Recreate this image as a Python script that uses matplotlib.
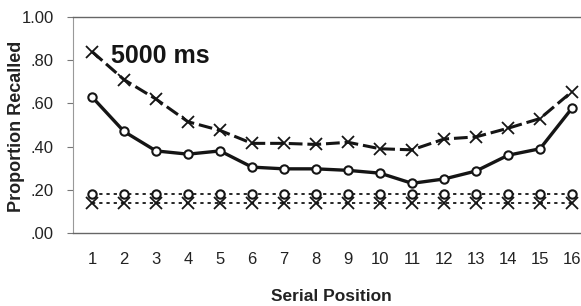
import matplotlib
matplotlib.use("Agg")
import matplotlib.pyplot as plt

positions = list(range(1, 17))
x_dashed = [0.84, 0.71, 0.62, 0.515, 0.475, 0.415, 0.415, 0.41, 0.42, 0.39, 0.385, 0.435, 0.445, 0.485, 0.53, 0.655]
o_solid = [0.63, 0.47, 0.38, 0.365, 0.38, 0.305, 0.297, 0.297, 0.29, 0.277, 0.23, 0.25, 0.287, 0.36, 0.39, 0.578]
o_dotted = [0.18] * 16
x_dotted = [0.14] * 16
yticks = [0.0, 0.2, 0.4, 0.6, 0.8, 1.0]
ytick_labels = [".00", ".20", ".40", ".60", ".80", "1.00"]

plt.rcParams['font.family'] = ["Liberation Sans", "DejaVu Sans"]

fig = plt.figure(figsize=(5.81, 3.06), dpi=100)
ax = fig.add_axes([73/581, (306-233)/306, 508/581, 216/306])

ink = "#151515"
ax.plot(positions, x_dashed, color=ink, lw=2.2, dashes=(4.5, 1.6), marker='x', ms=8, mew=1.3, zorder=3)
ax.plot(positions, o_solid, color=ink, lw=2.4, marker='o', ms=6, mfc='white', mec=ink, mew=1.5, zorder=3)
ax.plot(positions, o_dotted, color=ink, lw=1.3, dashes=(1.8, 2.2), marker='o', ms=6, mfc='white', mec=ink, mew=1.5, zorder=3)
ax.plot(positions, x_dotted, color=ink, lw=1.3, dashes=(1.8, 2.2), marker='x', ms=8, mew=1.3, zorder=3)

ax.set_xlim(0.406, 16.28)
ax.set_ylim(0, 1.0)
ax.set_xticks(positions)
ax.set_xticklabels([str(p) for p in positions], fontsize=12, color="#222")
ax.set_yticks(yticks)
ax.set_yticklabels(ytick_labels, fontsize=12, color="#222")
ax.tick_params(axis='x', length=0, pad=14)
ax.tick_params(axis='y', length=4, width=0.8, color="#777", pad=10, direction='out')

for s in ['top', 'bottom']:
    ax.spines[s].set_color("#666")
    ax.spines[s].set_linewidth(1.0)
ax.spines['left'].set_color("#999")
ax.spines['left'].set_linewidth(0.8)
ax.spines['right'].set_visible(False)

ax.set_ylabel("Proportion Recalled", fontsize=13, fontweight='bold', color="#222")
ax.yaxis.set_label_coords((25 - 73) / 508, (233 - 126) / 216)
ax.set_xlabel("Serial Position", fontsize=12.5, fontweight='bold', color="#222")
ax.xaxis.set_label_coords((331 - 73) / 508, (233 - 289) / 216)

ax.text(1.6, 0.82, "5000 ms", fontsize=18, fontweight='bold', color=ink, va='center', ha='left')

fig.savefig("out.png", dpi=100)
